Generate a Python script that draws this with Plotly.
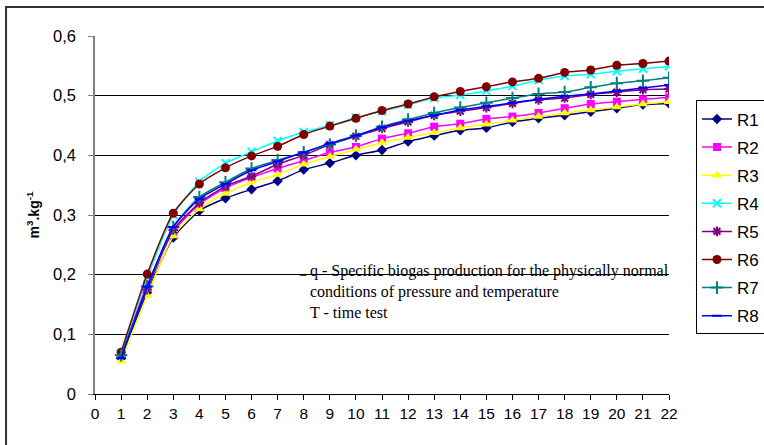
import plotly.graph_objects as go

days = list(range(1, 23))
R1 = [0.060, 0.170, 0.262, 0.307, 0.328, 0.343, 0.357, 0.376, 0.387, 0.400, 0.409, 0.423, 0.433, 0.442, 0.446, 0.456, 0.462, 0.467, 0.473, 0.479, 0.485, 0.487]
R2 = [0.065, 0.183, 0.272, 0.318, 0.345, 0.363, 0.378, 0.391, 0.405, 0.414, 0.428, 0.437, 0.448, 0.453, 0.461, 0.465, 0.471, 0.479, 0.486, 0.490, 0.494, 0.497]
R3 = [0.055, 0.165, 0.265, 0.310, 0.336, 0.355, 0.368, 0.385, 0.398, 0.410, 0.421, 0.430, 0.438, 0.446, 0.452, 0.459, 0.465, 0.471, 0.476, 0.481, 0.486, 0.490]
R4 = [0.068, 0.195, 0.300, 0.356, 0.387, 0.406, 0.424, 0.439, 0.450, 0.463, 0.474, 0.485, 0.496, 0.501, 0.508, 0.516, 0.526, 0.533, 0.536, 0.541, 0.545, 0.549]
R5 = [0.065, 0.175, 0.275, 0.320, 0.348, 0.365, 0.385, 0.400, 0.418, 0.432, 0.445, 0.456, 0.467, 0.474, 0.480, 0.487, 0.493, 0.496, 0.502, 0.506, 0.510, 0.511]
R6 = [0.070, 0.201, 0.303, 0.352, 0.379, 0.399, 0.415, 0.435, 0.449, 0.462, 0.475, 0.486, 0.498, 0.507, 0.515, 0.523, 0.529, 0.539, 0.543, 0.551, 0.554, 0.558]
R7 = [0.065, 0.180, 0.280, 0.330, 0.355, 0.378, 0.392, 0.405, 0.418, 0.433, 0.448, 0.460, 0.471, 0.480, 0.488, 0.496, 0.503, 0.506, 0.514, 0.521, 0.525, 0.530]
R8 = [0.060, 0.180, 0.280, 0.327, 0.352, 0.375, 0.390, 0.405, 0.420, 0.433, 0.447, 0.458, 0.467, 0.476, 0.482, 0.488, 0.494, 0.499, 0.503, 0.508, 0.513, 0.518]

names = ["R1", "R2", "R3", "R4", "R5", "R6", "R7", "R8"]
series = [R1, R2, R3, R4, R5, R6, R7, R8]
colors = ["#000080", "#FF00FF", "#FFFF00", "#00FFFF", "#800080", "#800000", "#008080", "#0000FF"]
symbols = ["diamond", "square", "triangle-up", "x-thin-open", "asterisk-open", "circle", "cross-thin-open", "line-ew-open"]
msizes = [8, 8, 9, 8, 8, 9, 9, 7]

x_ticks = list(range(0, 23))
y_ticks = [0, 0.1, 0.2, 0.3, 0.4, 0.5, 0.6]
y_ticktext = ["0", "0,1", "0,2", "0,3", "0,4", "0,5", "0,6"]

fig = go.Figure()
for i, (n, s) in enumerate(zip(names, series)):
    open_sym = symbols[i].endswith("open")
    fig.add_trace(go.Scatter(
        x=days, y=s, name=n, mode="lines+markers",
        line=dict(color=colors[i], width=1.5, shape="spline", smoothing=0.6),
        marker=dict(symbol=symbols[i], size=msizes[i], color=colors[i],
                    line=dict(color=colors[i], width=2 if open_sym else 0)),
        legendgroup=n,
    ))

fig.update_layout(
    width=764, height=445,
    margin=dict(l=95, r=95, t=36, b=51, autoexpand=False),
    paper_bgcolor="white", plot_bgcolor="white",
    font=dict(family="Liberation Sans, Arial", size=15, color="black"),
    showlegend=True,
    legend=dict(x=1.047, y=0.82, xanchor="left", yanchor="top",
                bordercolor="black", borderwidth=1,
                font=dict(size=17), tracegroupgap=3,
                traceorder="grouped", itemwidth=30),
    xaxis=dict(range=[0, 22], tickvals=x_ticks, ticks="outside", ticklen=5,
               tickcolor="black", showline=True, linecolor="black", linewidth=1,
               showgrid=False, zeroline=False, tickfont=dict(size=15.5)),
    yaxis=dict(range=[0, 0.6], tickvals=y_ticks, ticktext=y_ticktext,
               ticks="outside", ticklen=5, tickcolor="#808080",
               showline=True, linecolor="#808080", linewidth=1.5,
               showgrid=True, gridcolor="black", gridwidth=1, zeroline=False,
               tickfont=dict(size=16.5), ticklabelstandoff=9,
               title=dict(text="<b>m<sup>3</sup>.kg<sup>-1</sup></b>", font=dict(size=14), standoff=10)),
)

# outer chart border
fig.add_shape(type="rect", xref="paper", yref="paper",
              x0=-0.155, x1=1.4, y0=-0.3, y1=1.081,
              line=dict(color="#333333", width=2), fillcolor="rgba(0,0,0,0)", layer="below")

# short leader mark before the note
fig.add_shape(type="line", xref="x", yref="y", x0=7.85, x1=8.1, y0=0.199, y1=0.199,
              line=dict(color="black", width=1))

fig.add_annotation(
    xref="x", yref="y", x=8.15, y=0.224, xanchor="left", yanchor="top",
    text="q - Specific biogas production for the physically normal<br>conditions of pressure and temperature<br>T - time test",
    showarrow=False, align="left",
    font=dict(family="Liberation Serif, Times New Roman", size=16, color="black"),
)

fig.write_html("out.html")
